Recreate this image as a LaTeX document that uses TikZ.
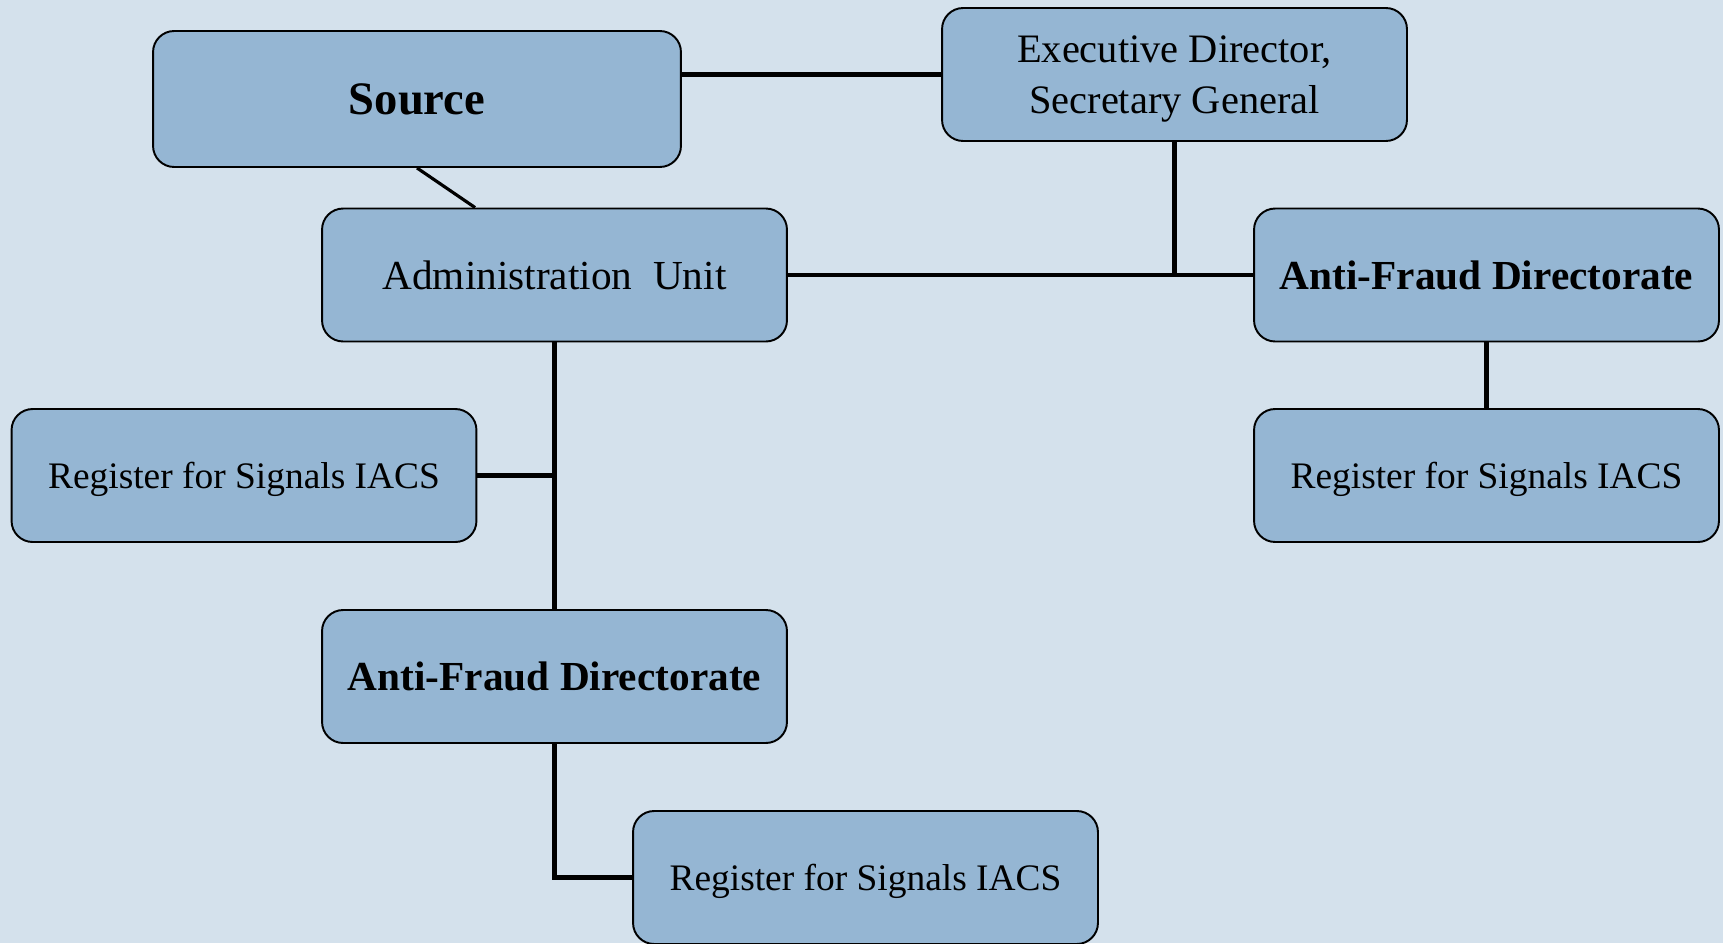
\documentclass[tikz,border=0pt]{standalone}
\usepackage{fontspec}
\setmainfont{Liberation Serif}
\definecolor{bgblue}{RGB}{212,225,236}
\definecolor{boxblue}{RGB}{149,182,211}
\begin{document}
\begin{tikzpicture}[x=0.02cm, y=-0.02cm]
    \tikzstyle{box} = [draw=black, line width=1.1pt, fill=boxblue, rounded corners=12pt,
      minimum width=9.3cm, minimum height=2.66cm, align=center, inner sep=0pt,
      text depth=0pt, font=\fontsize{21.3}{29}\selectfont]
    \tikzstyle{boldbox} = [box, font=\fontsize{23.5}{29}\selectfont\bfseries]
    \tikzstyle{link} = [line width=2.6pt]
    \fill[bgblue] (0,0) rectangle (1723,943);
    \useasboundingbox (0,0) rectangle (1723,943);
    % boxes
    \node[boldbox, minimum width=10.56cm, minimum height=2.72cm,
      font=\fontsize{26.5}{30}\selectfont\bfseries] (src) at (417,99) {Source};
    \node[box, font=\fontsize{23}{29}\selectfont] (exec) at (1174.5,74.5)
      {Executive Director,\\Secretary General};
    \node[box, font=\fontsize{23.5}{29}\selectfont] (admin) at (554.5,275) {Administration~~Unit};
    \node[boldbox] (afr) at (1486.5,275) {Anti-Fraud Directorate};
    \node[box] (regr) at (1486.5,475.5) {Register for Signals IACS};
    \node[box] (regl) at (244,475.5) {Register for Signals IACS};
    \node[boldbox] (afb) at (554.5,676.5) {Anti-Fraud Directorate};
    \node[box] (regb) at (865.5,877.5) {Register for Signals IACS};
    % links
    \draw[link] (exec.west) -- (exec.west -| src.east);
    \draw[link, line width=1.8pt] (src.south) -- ([xshift=3.08cm]admin.north west);
    \draw[link] (exec.south) -- (exec.south |- admin.east);
    \draw[link] (admin.east) -- (afr.west);
    \draw[link] (afr.south) -- (regr.north);
    \draw[link] (admin.south) -- (afb.north);
    \draw[link] (regl.east) -- (regl.east -| admin.south);
    \draw[link] (afb.south) |- (regb.west);
\end{tikzpicture}
\end{document}
